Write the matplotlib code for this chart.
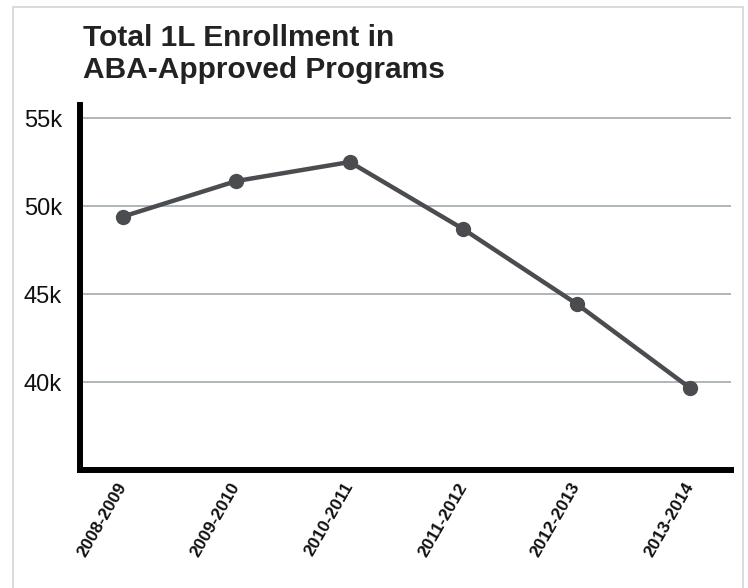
import matplotlib
matplotlib.use("Agg")
import matplotlib.pyplot as plt
from matplotlib.patches import Rectangle

years = ["2008-2009", "2009-2010", "2010-2011", "2011-2012", "2012-2013", "2013-2014"]
enrollment = [49400, 51420, 52500, 48690, 44440, 39660]
yticks = [40000, 45000, 50000, 55000]
ytick_labels = ["40k", "45k", "50k", "55k"]
title = "Total 1L Enrollment in\nABA-Approved Programs"

plt.rcParams['font.family'] = ['Liberation Sans', 'DejaVu Sans']

W, H = 748, 588
fig = plt.figure(figsize=(W / 100, H / 100), dpi=100)
fig.patch.set_facecolor("white")

# light frame around the card
fig.add_artist(Rectangle((12.5 / W, -0.05), (743 - 12.5) / W, (H - 7) / H + 0.05,
                         transform=fig.transFigure, fill=False,
                         edgecolor="#d4d4d4", linewidth=1.2))

ax = fig.add_axes([80 / W, (H - 470) / H, (731 - 80) / W, (470 - 105) / H])
x = list(range(len(years)))
ax.plot(x, enrollment, color="#4a4c4f", linewidth=3.2, marker="o",
        markersize=10, zorder=3, solid_capstyle="round")

ax.set_xlim(-0.379, 5.361)
ax.set_ylim(35000, 55739)
ax.set_yticks(yticks)
ax.set_yticklabels(ytick_labels, fontsize=17, color="#111111")
ax.set_xticks(x)
ax.set_xticklabels(years, fontsize=12.5, fontweight="bold", color="#111111",
                   rotation=60, ha="right", va="center", rotation_mode="anchor")
ax.tick_params(axis="both", length=0)
ax.tick_params(axis="y", pad=13)
ax.tick_params(axis="x", pad=10)

ax.grid(axis="y", color="#a9b1b5", linewidth=1.3)
ax.set_axisbelow(True)
for s in ["top", "right"]:
    ax.spines[s].set_visible(False)
for s in ["left", "bottom"]:
    ax.spines[s].set_linewidth(4.3)
    ax.spines[s].set_color("black")
    ax.spines[s].set_capstyle("projecting")

fig.text(83 / W, 1 - 24 / H, title, fontsize=21.5, fontweight="bold",
         color="#222222", ha="left", va="top", linespacing=1.2)

fig.savefig("out.png", dpi=100, facecolor="white")
